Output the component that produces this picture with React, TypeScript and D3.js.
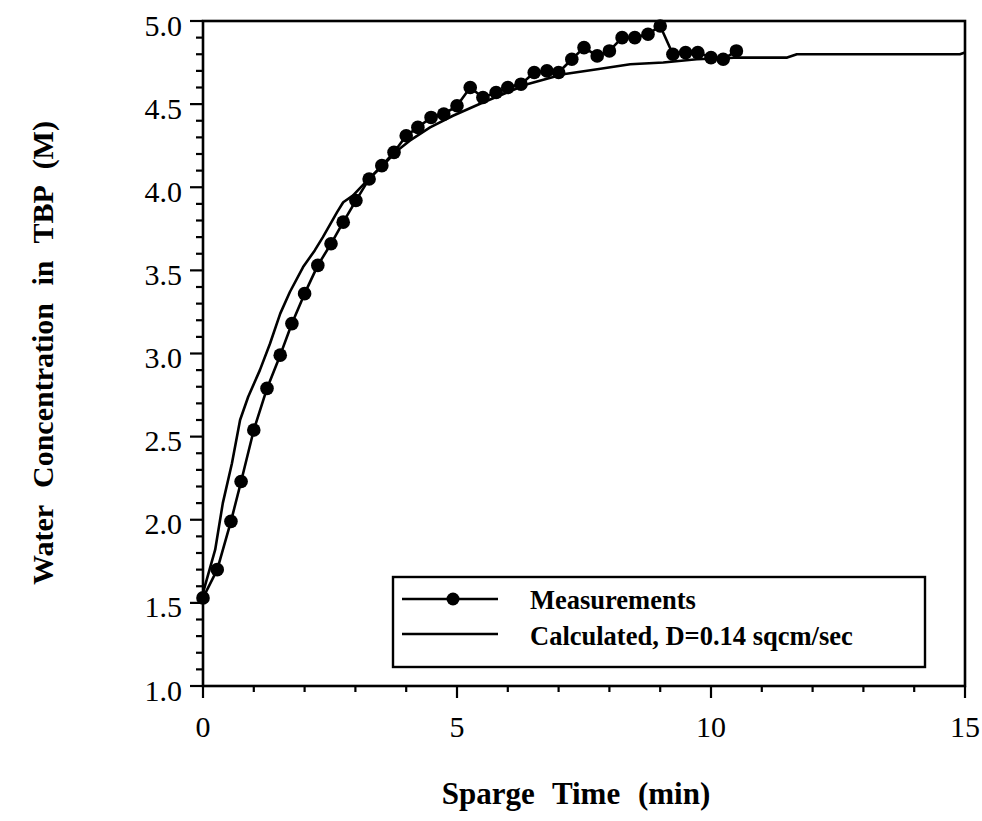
import React from "react";
import * as d3 from "d3";

const measT = [0, 0.28, 0.55, 0.75, 1.0, 1.26, 1.52, 1.75, 2.0, 2.26, 2.52, 2.76, 3.01, 3.27, 3.52, 3.76, 4.0, 4.23, 4.49, 4.74, 5.0, 5.26, 5.51, 5.77, 6.0, 6.26, 6.52, 6.77, 7.0, 7.26, 7.5, 7.76, 8.0, 8.25, 8.5, 8.76, 9.0, 9.25, 9.5, 9.74, 10.0, 10.24, 10.5];
const measC = [1.53, 1.70, 1.99, 2.23, 2.54, 2.79, 2.99, 3.18, 3.36, 3.53, 3.66, 3.79, 3.92, 4.05, 4.13, 4.21, 4.31, 4.36, 4.42, 4.44, 4.49, 4.60, 4.54, 4.57, 4.60, 4.62, 4.69, 4.70, 4.69, 4.77, 4.84, 4.79, 4.82, 4.90, 4.90, 4.92, 4.97, 4.80, 4.81, 4.81, 4.78, 4.77, 4.82];

const calcT = [0, 0.24, 0.39, 0.57, 0.73, 0.89, 1.12, 1.32, 1.52, 1.71, 1.97, 2.20, 2.36, 2.64, 2.76, 2.95, 3.23, 3.54, 3.82, 4.07, 4.47, 4.92, 5.51, 6.38, 7.09, 7.76, 8.41, 9.06, 9.72, 10.57, 11.50, 11.69, 14.90, 15.0];
const calcC = [1.56, 1.82, 2.10, 2.34, 2.60, 2.74, 2.90, 3.06, 3.24, 3.37, 3.52, 3.62, 3.70, 3.85, 3.91, 3.95, 4.04, 4.13, 4.22, 4.28, 4.36, 4.43, 4.51, 4.62, 4.68, 4.71, 4.74, 4.75, 4.77, 4.78, 4.78, 4.80, 4.80, 4.81];

const xMajorTicks = [0, 5, 10, 15];
const yMajorTicks = [1.0, 1.5, 2.0, 2.5, 3.0, 3.5, 4.0, 4.5, 5.0];
const xTitle = "Sparge Time (min)";
const yTitle = "Water Concentration in TBP (M)";
const legendLabels = ["Measurements", "Calculated, D=0.14 sqcm/sec"];

const W = 982;
const H = 821;
const L = 203, R = 965, T = 21, B = 686;

export default function App() {
  const x = d3.scaleLinear().domain([0, 15]).range([L, R]);
  const y = d3.scaleLinear().domain([1, 5]).range([B, T]);
  const xMinor = d3.range(0, 16, 1);
  const yMinor = d3.range(10, 51, 1).map((v) => v / 10);
  const meas = measT.map((t, i) => [t, measC[i]] as [number, number]);
  const calc = calcT.map((t, i) => [t, calcC[i]] as [number, number]);
  const line = d3.line<[number, number]>().x((d) => x(d[0])).y((d) => y(d[1]));
  const serif = "'Liberation Serif', 'Times New Roman', serif";

  return (
    <svg width={W} height={H} style={{ position: "absolute", left: 0, top: 0, background: "#fff" }} fontFamily={serif}>
      <rect x={0} y={0} width={W} height={H} fill="#fff" />
      {yMinor.map((v) => {
        const major = Math.abs(v * 2 - Math.round(v * 2)) < 1e-6;
        return <line key={"ym" + v} x1={L - (major ? 13 : 7)} x2={L} y1={y(v)} y2={y(v)} stroke="#000" strokeWidth={2.2} />;
      })}
      {xMinor.map((v) => {
        const major = v % 5 === 0;
        return <line key={"xm" + v} x1={x(v)} x2={x(v)} y1={B} y2={B + (major ? 12 : 6)} stroke="#000" strokeWidth={2.2} />;
      })}
      <rect x={L} y={T} width={R - L} height={B - T} fill="none" stroke="#000" strokeWidth={2.6} />
      {yMajorTicks.map((v) => (
        <text key={"yl" + v} x={182} y={y(v) + 4} textAnchor="end" dominantBaseline="central" fontSize={30}>
          {v.toFixed(1)}
        </text>
      ))}
      {xMajorTicks.map((v) => (
        <text key={"xl" + v} x={x(v)} y={737} textAnchor="middle" fontSize={30}>
          {v}
        </text>
      ))}
      <text x={576} y={804} textAnchor="middle" fontSize={31} fontWeight="bold" style={{ wordSpacing: "10px" }}>
        {xTitle}
      </text>
      <text transform="translate(53,353) rotate(-90)" textAnchor="middle" fontSize={30} fontWeight="bold" style={{ wordSpacing: "10px" }}>
        {yTitle}
      </text>
      <path d={line(calc) || ""} fill="none" stroke="#000" strokeWidth={2.6} strokeLinejoin="round" />
      <path d={line(meas) || ""} fill="none" stroke="#000" strokeWidth={2.6} strokeLinejoin="round" />
      {meas.map((d, i) => (
        <circle key={"c" + i} cx={x(d[0])} cy={y(d[1])} r={6.8} fill="#000" />
      ))}
      <rect x={393} y={577} width={532} height={90} fill="#fff" stroke="#000" strokeWidth={2.4} />
      <line x1={402} x2={498} y1={599} y2={599} stroke="#000" strokeWidth={2.6} />
      <circle cx={453} cy={599} r={6.5} fill="#000" />
      <line x1={402} x2={498} y1={634} y2={634} stroke="#000" strokeWidth={2.6} />
      <text x={530} y={600} dominantBaseline="central" fontSize={26.5} fontWeight="bold">
        {legendLabels[0]}
      </text>
      <text x={530} y={636} dominantBaseline="central" fontSize={26.5} fontWeight="bold">
        {legendLabels[1]}
      </text>
    </svg>
  );
}
